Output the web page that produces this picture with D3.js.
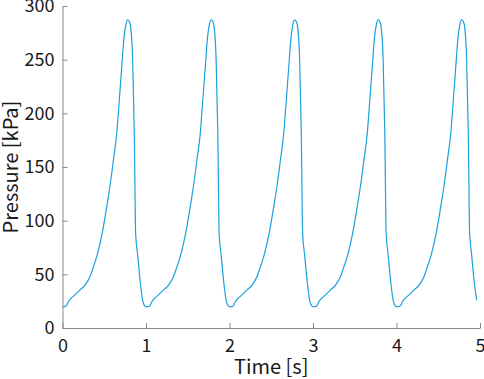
<!DOCTYPE html>
<html>
<head>
<meta charset="utf-8">
<script src="https://cdn.jsdelivr.net/npm/d3@7"></script>
<style>
    body { margin: 0; background: #fff; }
    svg { display: block; }
    .axis text { font-family: "Noto Sans CJK JP", "Noto Sans", sans-serif; font-size: 18px; fill: #1a1a1a; }
    .axis path, .axis line { stroke: #8a8a8a; }
    .label { font-family: "Noto Sans CJK JP", "Noto Sans", sans-serif; font-size: 20px; fill: #1a1a1a; }
</style>
</head>
<body>
<div id="container"></div>
<script>
// one heartbeat-like cycle (time within cycle [s], pressure [kPa])
const cycleTime = [0.00, 0.03, 0.05, 0.07, 0.10, 0.13, 0.21, 0.27, 0.33, 0.37, 0.41, 0.45, 0.49, 0.53, 0.57, 0.61, 0.65, 0.68, 0.71, 0.737, 0.757, 0.78, 0.80, 0.816, 0.84, 0.86, 0.876, 0.90, 0.928, 0.96, 0.98]
const cyclePressure = [20, 20, 21, 24.5, 27.5, 29.5, 35.5, 40, 48, 57, 66.5, 79, 94.5, 113, 133, 156.5, 181.5, 212, 243.5, 271, 282, 287, 285.5, 280.5, 250, 181.5, 88, 68, 45, 26, 21]
const cycleCount = 5
const period = 1
const endTime = 4.965

const xTicks = [0, 1, 2, 3, 4, 5]
const yTicks = [0, 50, 100, 150, 200, 250, 300]
const xTitle = "Time [s]"
const yTitle = "Pressure [kPa]"

const width = 484, height = 379
const margin = { left: 62.5, top: 6, right: 4, bottom: 51 }
const lineColor = "#1ba1dc"

// lay the cycles end to end
const series = []
d3.range(cycleCount).forEach(k => {
    cycleTime.forEach((t, i) => {
        const tt = k * period + t
        if (tt <= endTime) series.push([tt, cyclePressure[i]])
    })
})

const svg = d3.select('#container')
    .append('svg').attr('width', width).attr('height', height)

const x = d3.scaleLinear().domain([0, 5]).range([margin.left, width - margin.right])
const y = d3.scaleLinear().domain([0, 300]).range([height - margin.bottom, margin.top])

svg.append("g")
    .attr("class", "axis")
    .attr("transform", "translate(0," + y(0) + ")")
    .call(d3.axisBottom(x).tickValues(xTicks).tickFormat(d3.format("d")).tickSize(-5).tickSizeOuter(0).tickPadding(11))

svg.append("g")
    .attr("class", "axis")
    .attr("transform", "translate(" + x(0) + ",0)")
    .call(d3.axisLeft(y).tickValues(yTicks).tickFormat(d3.format("d")).tickSize(-5).tickSizeOuter(0).tickPadding(8))

const line = d3.line()
    .x(d => x(d[0]))
    .y(d => y(d[1]))
    .curve(d3.curveMonotoneX)

svg.append("path")
    .datum(series)
    .attr("d", line)
    .attr("fill", "none")
    .attr("stroke", lineColor)
    .attr("stroke-width", 1.2)

svg.append("text")
    .attr("class", "label")
    .attr("x", (x(0) + x(5)) / 2)
    .attr("y", 374)
    .attr("text-anchor", "middle")
    .text(xTitle)

svg.append("text")
    .attr("class", "label")
    .attr("transform", "translate(18," + (y(0) + y(300)) / 2 + ") rotate(-90)")
    .attr("text-anchor", "middle")
    .text(yTitle)
</script>
</body>
</html>
